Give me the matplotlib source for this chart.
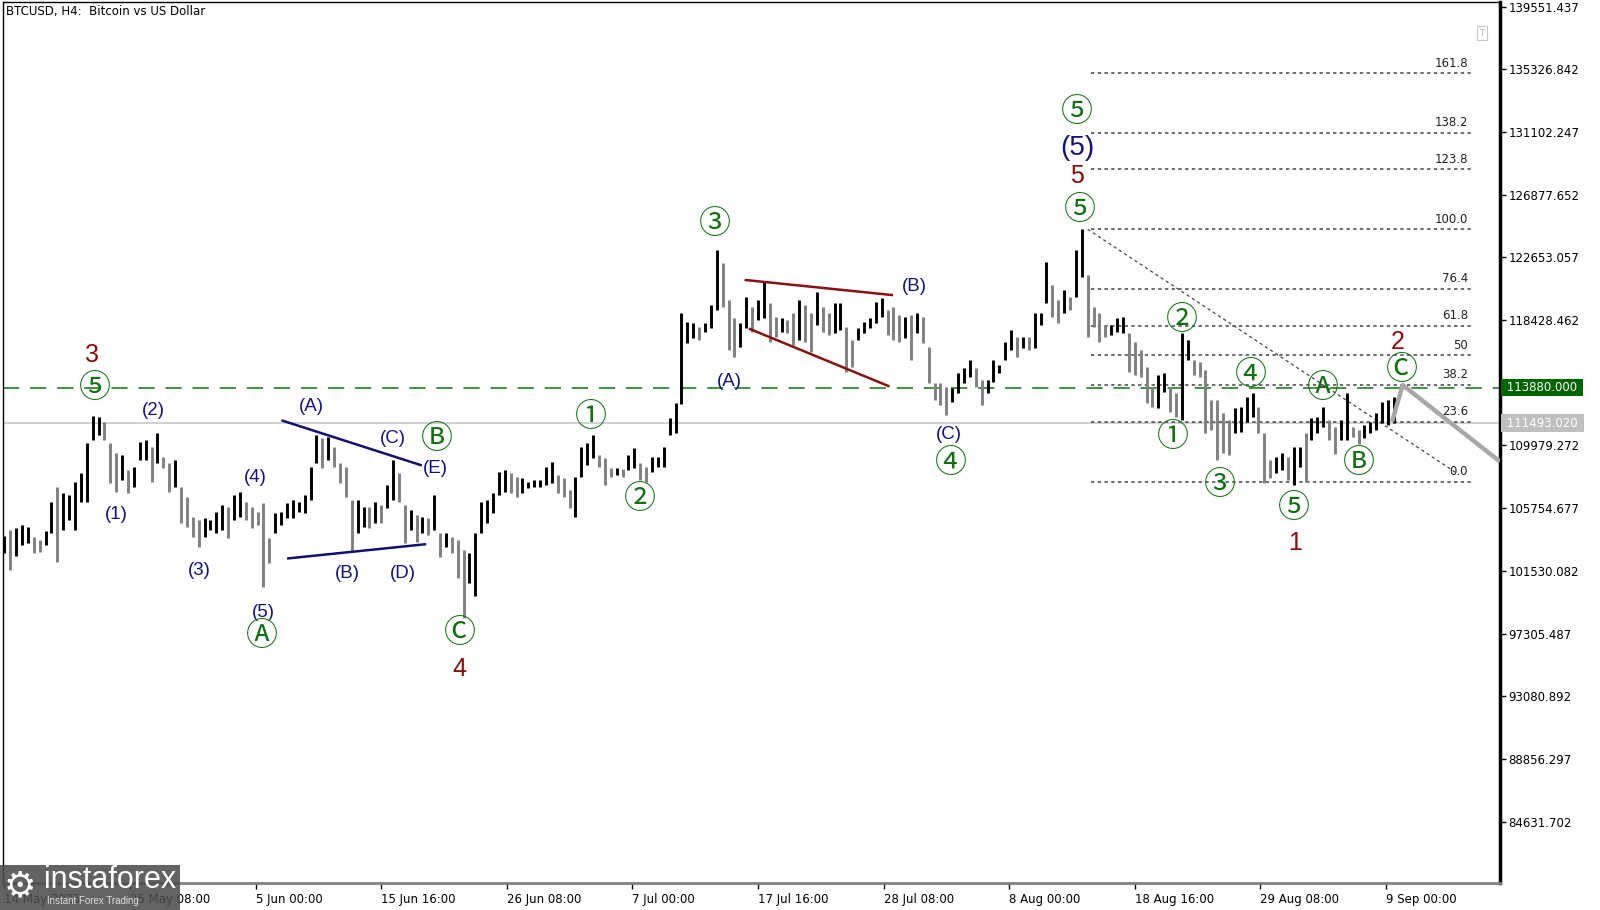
import matplotlib
matplotlib.use('Agg')
import matplotlib.pyplot as plt
from matplotlib.patches import Rectangle

# ---------------- data (prices in thousands of USD) ----------------
BARS_PER_SAMPLE = 3          # each sample summarises 3 H4 bars
high_k = [
    103.9,104.3,104.4,104.6,104.5,103.8,103.6,104.2,106.2,107.2,
    106.75,106.64,107.54,108.1,110.12,111.96,111.92,111.58,110.12,109.45,
    109.34,108.33,108.55,110.23,110.35,109.9,110.84,109.22,108.77,109.0,
    107.2,106.53,105.18,104.96,105.07,104.96,105.52,105.97,105.85,106.64,
    106.87,106.19,105.85,105.52,106.08,103.72,105.4,105.52,106.08,106.3,
    106.19,106.64,108.55,110.68,
    110.46,110.57,109.9,108.77,108.55,106.3,106.3,105.85,105.85,106.19,
    105.97,107.31,109.0,108.1,105.97,105.63,105.29,105.18,105.07,106.64,
    104.06,104.06,103.83,103.61,102.93,102.71,104.06,106.19,106.3,106.75,
    108.21,108.33,108.1,107.88,107.76,107.54,107.65,107.65,108.55,108.89,
    107.99,107.76,106.98,107.88,109.9,110.12,110.68,109.34,109.11,108.44,
    108.44,
    108.37,109.34,109.79,108.77,108.55,109.22,109.22,109.9,111.81,112.82,
    118.89,118.32,118.21,117.99,118.21,119.45,123.15,122.25,119.78,118.55,
    118.21,120.01,119.33,119.78,121.02,119.56,118.66,118.55,118.44,118.89,
    119.78,119.45,118.89,120.35,119.33,118.89,119.56,119.56,117.99,117.09,
    117.87,118.32,118.55,119.67,119.9,119.11,119.33,118.77,118.66,118.77,
    118.89,
    118.66,116.6,114.17,114.17,113.94,113.83,114.84,115.18,115.74,115.18,
    114.39,114.39,115.74,115.4,116.97,117.76,117.31,117.31,117.31,118.89,
    118.89,122.37,120.79,119.78,120.46,120.01,123.15,124.55,121.5,119.33,
    118.89,118.1,118.1,118.55,118.66,117.54,116.97,116.41,115.29,113.94,
    114.73,114.84,113.94,113.49,117.54,117.09,115.74,115.63,115.07,113.04,
    113.04,
    112.15,111.69,112.48,112.59,113.27,113.54,112.59,110.8,109.0,109.22,
    109.45,109.22,109.9,109.9,110.8,111.81,111.92,112.59,111.69,111.25,
    111.69,113.49,111.25,111.02,111.36,111.58,112.15,112.93,113.04,113.27,
]
low_k = [
    102.7,101.6,102.5,103.3,103.4,102.7,102.8,103.3,104.1,102.15,
    104.28,104.96,104.28,106.19,106.19,110.35,110.68,110.35,107.43,106.87,
    107.65,106.75,107.2,109.0,109.0,107.54,108.77,108.44,106.87,107.2,
    104.73,104.51,103.83,103.16,103.83,104.28,104.06,104.28,103.72,104.96,
    105.18,104.96,104.39,104.62,100.46,102.04,104.06,104.62,105.07,105.07,
    105.52,105.4,106.3,108.77,
    108.44,109.0,108.55,107.43,106.53,102.82,104.06,104.51,104.39,104.73,
    104.73,105.74,106.3,106.19,103.38,104.28,103.49,104.06,103.95,104.28,
    102.49,103.16,102.71,101.02,98.33,100.69,99.83,104.06,104.73,105.4,
    106.64,106.87,106.75,106.53,106.75,107.09,107.2,107.2,107.31,107.43,
    106.75,106.53,105.74,105.18,107.88,108.66,109.11,108.55,107.31,107.88,
    107.99,
    107.88,108.33,108.44,107.65,107.54,108.21,108.55,108.55,110.68,110.8,
    112.8,116.86,117.2,117.09,117.65,117.87,119.11,119.33,116.41,115.96,
    116.64,117.87,117.65,118.44,118.55,116.97,117.31,117.65,117.54,116.75,
    117.09,116.97,116.3,118.1,117.65,117.43,117.54,117.76,114.95,115.29,
    117.09,117.54,117.87,118.21,118.66,117.43,117.09,116.97,117.2,115.74,
    117.54,
    116.86,114.17,113.04,112.71,112.03,112.93,113.49,114.17,114.62,113.94,
    112.71,113.49,114.28,114.84,115.74,116.41,115.96,116.53,116.41,116.53,
    118.1,119.56,118.66,118.21,118.89,119.11,120.01,121.36,117.31,117.99,
    116.97,117.31,117.43,117.65,117.54,114.95,114.73,114.62,112.82,112.59,
    112.48,113.61,112.26,111.92,111.69,115.74,114.73,114.62,110.8,111.02,
    109.0,
    109.45,109.34,110.8,110.91,111.58,111.92,110.8,107.43,107.76,108.1,
    108.33,107.65,107.31,108.55,107.54,110.35,110.8,111.25,110.35,109.4,
    110.35,110.35,110.57,110.08,110.46,110.8,111.02,111.47,111.36,111.49,
]
assert len(high_k) == len(low_k)

x_labels = ["14 May 2025", "25 May 08:00", "5 Jun 00:00", "15 Jun 16:00",
            "26 Jun 08:00", "7 Jul 00:00", "17 Jul 16:00", "28 Jul 08:00",
            "8 Aug 00:00", "18 Aug 16:00", "29 Aug 08:00", "9 Sep 00:00"]
BARS_PER_LABEL = 64
y_tick_values = [139551.437, 135326.842, 131102.247, 126877.652, 122653.057,
                 118428.462, 114203.867, 109979.272, 105754.677, 101530.082,
                 97305.487, 93080.892, 88856.297, 84631.702]

level_line = 113880.000       # green dashed level
bid_price = 111493.020        # current price line

fib_low_k, fib_high_k = 107.55, 124.55
fib_levels = [0.0, 23.6, 38.2, 50.0, 61.8, 76.4, 100.0, 123.8, 138.2, 161.8]
fib_names = ["0.0", "23.6", "38.2", "50", "61.8", "76.4", "100.0", "123.8", "138.2", "161.8"]
fib_start_idx, fib_end_idx = 554.7, 748.3
fib_diag_idx = [553, 741]
fib_diag_k = [124.55, 108.12]

# wave labels: text, bar index, price (k), kind
wave_text = ["3", "⑤", "(2)", "(1)", "(3)", "(4)", "(5)", "Ⓐ", "(A)", "(B)", "(C)", "Ⓑ",
             "(E)", "(D)", "Ⓒ", "4", "①", "②", "③", "(A)", "(B)", "(C)", "④",
             "⑤", "(5)", "5", "⑤", "①", "②", "③", "④", "⑤", "1", "Ⓐ", "Ⓑ", "Ⓒ", "2"]
wave_idx = [45.6, 47.2, 76.9, 58.2, 100.2, 129.1, 132.9, 132.1, 157.2, 176.0, 199.2, 221.3,
            220.8, 204.3, 233.2, 232.6, 299.9, 324.9, 363.1, 370.3, 464.5, 482.3, 483.2,
            547.7, 547.7, 547.7, 549.1, 596.3, 601.2, 620.4, 636.2, 658.3, 658.6, 673.1,
            691.4, 713.3, 710.8]
wave_k = [116.08, 113.83, 112.37, 105.3, 101.54, 107.8, 98.73, 97.14, 112.64, 101.32, 110.42,
          110.42, 108.44, 101.32, 97.32, 94.89, 111.92, 106.37, 124.89, 114.28, 120.68, 110.69,
          108.78, 132.48, 130.01, 128.14, 125.85, 110.53, 118.44, 107.31, 114.73, 105.74,
          103.39, 113.83, 108.78, 115.07, 116.97]
wave_kind = ["red", "green", "navy", "navy", "navy", "navy", "navy", "green", "navy", "navy",
             "navy", "green", "navy", "navy", "green", "red", "green", "green", "green", "navy",
             "navy", "navy", "green", "green", "navybig", "red", "green", "green", "green",
             "green", "green", "green", "red", "green", "green", "green", "red"]

# trend lines: (idx0, k0, idx1, k1)
triangle_lines = [(142.8, 111.65, 213.1, 108.66), (145.7, 102.37, 215.3, 103.32)]
wedge_lines = [(378.8, 121.13, 453.2, 120.12), (380.9, 117.83, 451.4, 113.99)]
projection_idx = [708.1, 713.5, 763.1]
projection_k = [111.58, 114.05, 108.89]

# ---------------- figure ----------------
W, H = 1600, 910
fig = plt.figure(figsize=(W / 100, H / 100), dpi=100)
fig.patch.set_facecolor('white')
ax_l, ax_r, ax_t, ax_b = 3, 1500, 2, 883
ax = fig.add_axes([ax_l / W, 1 - ax_b / H, (ax_r - ax_l) / W, (ax_b - ax_t) / H])
ax.set_facecolor('white')
ax.set_xlim(0.3, 763.1)
ax.set_ylim(80490.8, 139869.5)

# bars
xs = [BARS_PER_SAMPLE * i + 1 for i in range(len(high_k))]
hi = [v * 1000 for v in high_k]
lo = [v * 1000 for v in low_k]
cols = []
for i in range(len(hi)):
    mid = (hi[i] + lo[i]) / 2
    prev = (hi[i - 1] + lo[i - 1]) / 2 if i else mid
    cols.append('#000000' if mid >= prev else '#808080')
ax.vlines(xs, lo, hi, colors=cols, linewidth=2.1, zorder=3)

# horizontal lines
ax.axhline(level_line, color='#2f8a2f', lw=1.3, ls=(0, (9, 6)), zorder=2)
ax.axhline(bid_price, color='#c8c8c8', lw=1.2, zorder=1)

# fibo
rng = fib_high_k - fib_low_k
for lev, name in zip(fib_levels, fib_names):
    p = (fib_low_k + rng * lev / 100.0) * 1000
    ax.plot([fib_start_idx, fib_end_idx], [p, p], color='#444444', lw=1.1,
            ls=(0, (2.2, 2.2)), zorder=2)
    ax.text(fib_end_idx - 1.5, p + 250, name, ha='right', va='bottom', fontsize=8.5,
            color='#222222', family='DejaVu Sans', zorder=4)
ax.plot(fib_diag_idx, [v * 1000 for v in fib_diag_k], color='#444444', lw=0.9,
        ls=(0, (2.5, 2.5)), zorder=2)

# triangle & wedge
for (a, b, c, d) in triangle_lines:
    ax.plot([a, c], [b * 1000, d * 1000], color='#101070', lw=1.8, zorder=4)
for (a, b, c, d) in wedge_lines:
    ax.plot([a, c], [b * 1000, d * 1000], color='#8b1010', lw=1.8, zorder=4)
ax.plot(projection_idx, [v * 1000 for v in projection_k], color='#a8a8a8', lw=3.2,
        zorder=4, solid_capstyle='butt')

# wave labels
style = {
    'red': dict(color='#8b0a0a', fontsize=18, family=['Liberation Sans', 'DejaVu Sans']),
    'navy': dict(color='#141478', fontsize=13.5, family=['Liberation Sans', 'DejaVu Sans']),
    'navybig': dict(color='#141478', fontsize=20, family=['Liberation Sans', 'DejaVu Sans']),
    'green': dict(color='#127012', fontsize=23, family=['Noto Sans CJK JP', 'DejaVu Sans']),
}
for t, xi, pk, kd in zip(wave_text, wave_idx, wave_k, wave_kind):
    ax.text(xi, pk * 1000, t, ha='center', va='center', zorder=6, **style[kd])

# axes styling
for s in ['left', 'top']:
    ax.spines[s].set_color('black'); ax.spines[s].set_linewidth(1.0)
ax.spines['right'].set_color('black'); ax.spines['right'].set_linewidth(2.5)
ax.spines['bottom'].set_color('#808080'); ax.spines['bottom'].set_linewidth(2.0)

ax.yaxis.tick_right()
ax.set_yticks(y_tick_values)
# the 114203.867 label is hidden behind the green level tag in the reference
ax.set_yticklabels(["" if abs(v - level_line) < 1000 else f"{v:.3f}" for v in y_tick_values])
ax.tick_params(axis='y', direction='out', length=4, width=1, labelsize=8.5, pad=2,
               colors='black')
xt = [BARS_PER_LABEL * k + 1 for k in range(len(x_labels))]
ax.set_xticks(xt)
ax.set_xticklabels(x_labels)
for lbl in ax.get_xticklabels():
    lbl.set_ha('left')
ax.tick_params(axis='x', direction='out', length=4, width=1, labelsize=8.5, pad=3,
               colors='black')

# price tags on the axis
tr = ax.get_yaxis_transform()
ax.text(1.002, level_line, " 113880.000 ", transform=tr, ha='left', va='center',
        fontsize=8.5, color='white', zorder=10, clip_on=False,
        bbox=dict(boxstyle='square,pad=0.2', fc='#006400', ec='none'))
ax.text(1.002, bid_price, " 111493.020 ", transform=tr, ha='left', va='center',
        fontsize=8.5, color='white', zorder=10, clip_on=False,
        bbox=dict(boxstyle='square,pad=0.2', fc='#c0c0c0', ec='none'))

# title and small icon
fig.text(6 / W, 1 - 12 / H, "BTCUSD, H4:  Bitcoin vs US Dollar", fontsize=8.5,
         va='center', ha='left', color='black')
fig.text(1482 / W, 1 - 33 / H, "T", fontsize=6, va='center', ha='center', color='#b0b0b0',
         bbox=dict(boxstyle='square,pad=0.35', fc='white', ec='#c8c8c8', lw=0.8))

# logo
fig.patches.append(Rectangle((0, 0), 180 / W, 45 / H, transform=fig.transFigure,
                             fc='#4d4d4d', ec='none', alpha=0.88, zorder=20))
fig.text(4 / W, 1 - 886 / H, "⚙", fontsize=26, color='white', va='center', ha='left',
         zorder=21)
fig.text(44 / W, 1 - 880 / H, "instaforex", fontsize=22, color='white', va='center',
         ha='left', zorder=21, family='Liberation Sans')
fig.text(47 / W, 1 - 901 / H, "Instant Forex Trading", fontsize=7, color='#e0e0e0',
         va='center', ha='left', zorder=21, family='Liberation Sans')

fig.savefig('out.png', dpi=100)
